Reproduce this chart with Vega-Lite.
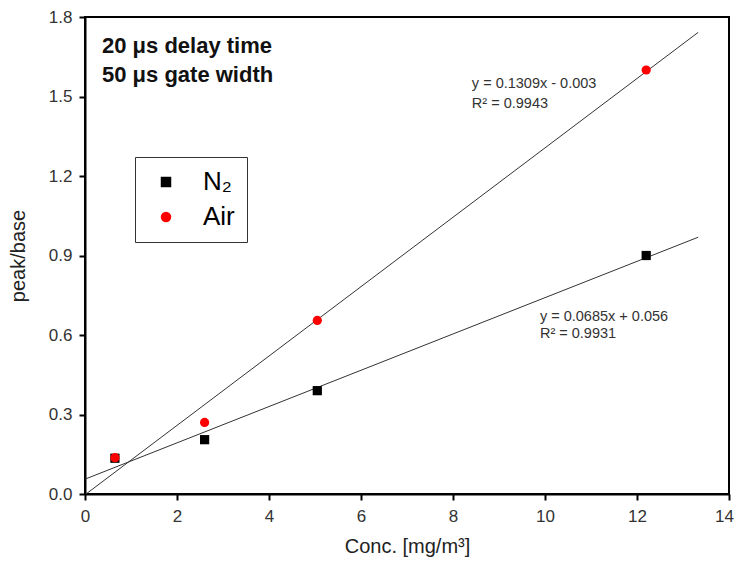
{
  "$schema": "https://vega.github.io/schema/vega-lite/v6.json",
  "autosize": {"type": "none"},
  "padding": {"left": 85, "top": 17, "right": 7, "bottom": 73},
  "width": 644,
  "height": 477,
  "background": "white",
  "config": {
    "view": {"stroke": "black", "strokeWidth": 2},
    "axis": {
      "grid": false,
      "domainColor": "black",
      "domainWidth": 2,
      "tickColor": "black",
      "tickWidth": 2,
      "tickSize": 6,
      "labelFlush": false,
      "labelFont": "Liberation Sans",
      "labelFontSize": 17,
      "labelColor": "#333333",
      "titleFont": "Liberation Sans",
      "titleFontSize": 20,
      "titleFontWeight": "normal",
      "titleColor": "#222222"
    }
  },
  "datasets": {
    "points": [
      {"gas": "N₂", "conc": 0.65, "ratio": 0.135},
      {"gas": "N₂", "conc": 2.6, "ratio": 0.205},
      {"gas": "N₂", "conc": 5.05, "ratio": 0.39},
      {"gas": "N₂", "conc": 12.2, "ratio": 0.90},
      {"gas": "Air", "conc": 0.65, "ratio": 0.137},
      {"gas": "Air", "conc": 2.6, "ratio": 0.27},
      {"gas": "Air", "conc": 5.05, "ratio": 0.655},
      {"gas": "Air", "conc": 12.2, "ratio": 1.60}
    ],
    "fits": [
      {"fit": "N₂", "conc": 0, "ratio": 0.056},
      {"fit": "N₂", "conc": 13.33, "ratio": 0.969},
      {"fit": "Air", "conc": 0, "ratio": -0.003},
      {"fit": "Air", "conc": 13.33, "ratio": 1.742}
    ],
    "notes": [
      {"label": "20 μs delay time", "conc": 0.37, "ratio": 1.69},
      {"label": "50 μs gate width", "conc": 0.37, "ratio": 1.58}
    ],
    "eqs": [
      {"label": "y = 0.1309x - 0.003", "conc": 8.41, "ratio": 1.547},
      {"label": "R² = 0.9943", "conc": 8.41, "ratio": 1.472},
      {"label": "y = 0.0685x + 0.056", "conc": 9.89, "ratio": 0.668},
      {"label": "R² = 0.9931", "conc": 9.89, "ratio": 0.604}
    ]
  },
  "layer": [
    {
      "data": {"name": "fits"},
      "mark": {"type": "line", "color": "#333333", "strokeWidth": 1, "clip": true},
      "encoding": {
        "x": {"field": "conc", "type": "quantitative", "scale": {"domain": [0, 14]},
              "axis": {"values": [0, 2, 4, 6, 8, 10, 12, 14], "title": "Conc. [mg/m³]", "titlePadding": 12, "labelPadding": 8,
                       "labelOffset": {"condition": {"test": "datum.value == 14", "value": -5}, "value": 0}}},
        "y": {"field": "ratio", "type": "quantitative", "scale": {"domain": [0, 1.8]},
              "axis": {"values": [0, 0.3, 0.6, 0.9, 1.2, 1.5, 1.8], "format": ".1f", "title": "peak/base", "titlePadding": 20, "labelPadding": 7}},
        "detail": {"field": "fit"}
      }
    },
    {
      "data": {"name": "points"},
      "mark": {"type": "point", "filled": true, "opacity": 1, "size": 85},
      "encoding": {
        "x": {"field": "conc", "type": "quantitative"},
        "y": {"field": "ratio", "type": "quantitative"},
        "color": {"field": "gas", "type": "nominal", "sort": null,
                  "scale": {"domain": ["N₂", "Air"], "range": ["#000000", "#ff0000"]},
                  "legend": {"title": null, "orient": "none", "legendX": 50, "legendY": 140,
                             "strokeColor": "#333333", "fillColor": "white", "padding": 12,
                             "labelFont": "Liberation Sans", "labelFontSize": 26, "labelColor": "black",
                             "symbolSize": 110, "labelOffset": 24, "rowPadding": 9, "symbolOffset": 6}},
        "shape": {"field": "gas", "type": "nominal", "sort": null,
                  "scale": {"domain": ["N₂", "Air"], "range": ["square", "circle"]}}
      }
    },
    {
      "data": {"name": "notes"},
      "mark": {"type": "text", "align": "left", "baseline": "middle", "font": "Liberation Sans", "fontSize": 22, "fontWeight": "bold", "color": "#111111"},
      "encoding": {
        "x": {"field": "conc", "type": "quantitative"},
        "y": {"field": "ratio", "type": "quantitative"},
        "text": {"field": "label"}
      }
    },
    {
      "data": {"name": "eqs"},
      "mark": {"type": "text", "align": "left", "baseline": "middle", "font": "Liberation Sans", "fontSize": 14.5, "color": "#333333"},
      "encoding": {
        "x": {"field": "conc", "type": "quantitative"},
        "y": {"field": "ratio", "type": "quantitative"},
        "text": {"field": "label"}
      }
    }
  ]
}
